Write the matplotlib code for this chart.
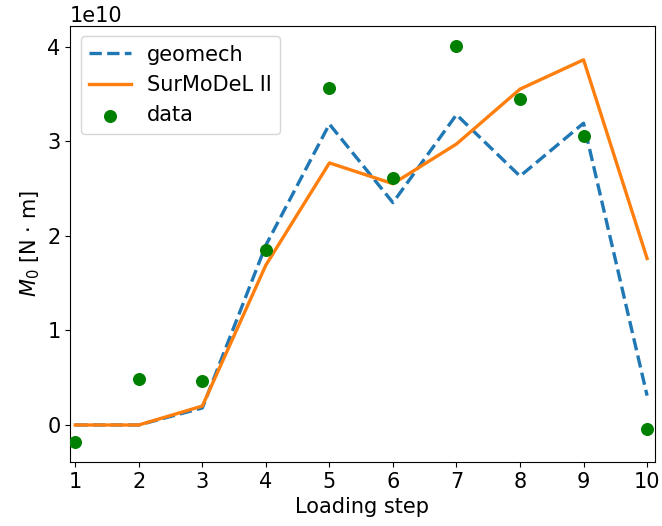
import numpy as np
import matplotlib
matplotlib.use("Agg")
import matplotlib.pyplot as plt

plt.rcParams['font.size'] = 15

# loading steps and seismic moment (N m)
steps = np.arange(1, 11)
geomech = np.array([0.0, 0.0, 0.18, 1.90, 3.18, 2.35, 3.28, 2.63, 3.19, 0.31]) * 1e10
surmodel = np.array([0.0, 0.0, 0.20, 1.69, 2.77, 2.55, 2.97, 3.55, 3.86, 1.76]) * 1e10
data = np.array([-0.18, 0.49, 0.465, 1.845, 3.56, 2.61, 4.01, 3.45, 3.05, -0.045]) * 1e10

fig = plt.figure(figsize=(6.62, 5.26), dpi=100)
ax = fig.add_axes([0.106, 0.122, 0.883, 0.829])

ax.plot(steps, geomech, '--', color='tab:blue', lw=2.4, label='geomech')
ax.plot(steps, surmodel, '-', color='tab:orange', lw=2.4, label='SurMoDeL II')
ax.scatter(steps, data, color='g', s=70, zorder=3, label='data')

ax.set_xticks(steps)
ax.set_xlim(0.92, 10.12)
ax.set_xlabel('Loading step')
ax.set_ylabel(r'$M_0$ [N $\cdot$ m]')
ax.legend(loc='upper left')

fig.savefig('out.png', dpi=100)
